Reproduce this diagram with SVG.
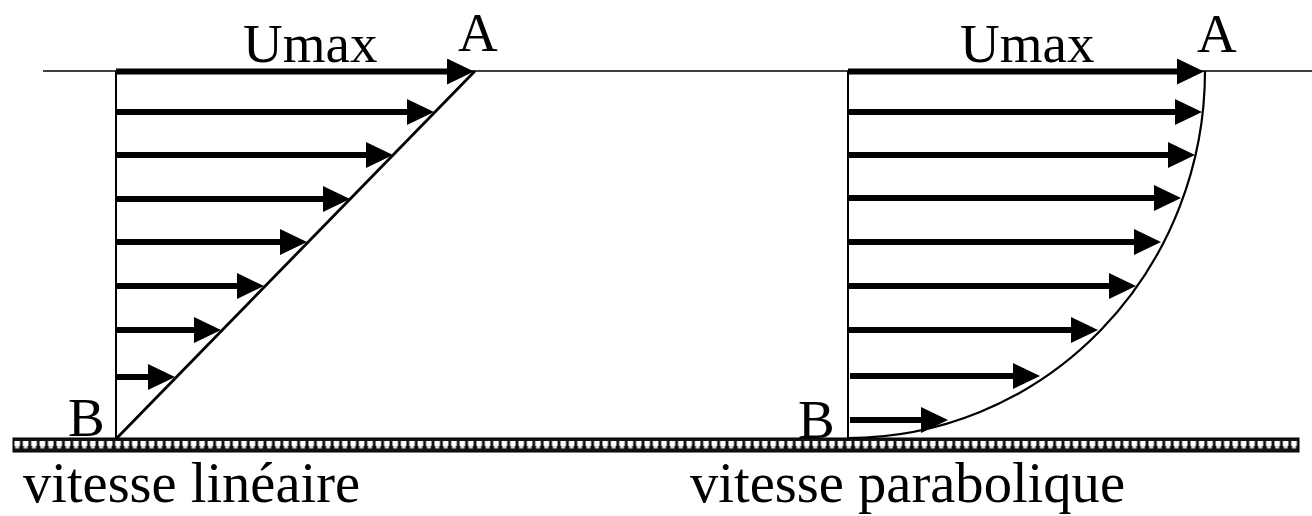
<svg xmlns="http://www.w3.org/2000/svg" width="1312" height="516" viewBox="0 0 1312 516">
  <style>
    .lbl { font-family: "Liberation Serif", "Times New Roman", serif; font-size: 55px; fill: #000; }
    .cap { font-family: "Liberation Serif", "Times New Roman", serif; font-size: 57px; fill: #000; }
    .thin { stroke: #000; fill: none; }
    .shaft { stroke: #000; stroke-width: 6; marker-end: url(#head); }
  </style>
  <defs>
    <marker id="head" markerUnits="userSpaceOnUse" markerWidth="27" markerHeight="26" refX="13" refY="13" orient="auto">
      <path d="M0,0 L27,13 L0,26 Z" fill="#000"/>
    </marker>
    <pattern id="ground" patternUnits="userSpaceOnUse" x="13" y="438" width="8.4" height="14">
      <rect x="0" y="0" width="8.4" height="14" fill="#111"/>
      <rect x="1.4" y="3" width="5.6" height="5" fill="#fff"/>
      <rect x="2.2" y="8" width="4" height="2.5" fill="#ddd"/>
    </pattern>
  </defs>

  <g id="ground-bar">
    <rect x="13" y="438" width="1286" height="14" fill="url(#ground)" stroke="#000" stroke-width="1"/>
  </g>

  <g id="surface">
    <line class="thin" x1="43" y1="71" x2="1312" y2="71" stroke-width="1.6"/>
  </g>

  <g id="profile-linear">
    <line class="thin" x1="116" y1="71" x2="116" y2="438" stroke-width="2"/>
    <line class="thin" x1="116" y1="439" x2="475" y2="71" stroke-width="2.8"/>
  </g>

  <g id="profile-parabolic">
    <line class="thin" x1="848" y1="71" x2="848" y2="438" stroke-width="2"/>
    <path class="thin" d="M 848 438 A 357 367 0 0 0 1205 71" stroke-width="2.2"/>
  </g>

  <g id="connectors">
    <line class="shaft" x1="116" y1="71.5" x2="460" y2="71.5"/>
    <line class="shaft" x1="116" y1="112" x2="420" y2="112"/>
    <line class="shaft" x1="116" y1="155" x2="379" y2="155"/>
    <line class="shaft" x1="116" y1="199" x2="336" y2="199"/>
    <line class="shaft" x1="116" y1="242" x2="293" y2="242"/>
    <line class="shaft" x1="116" y1="286" x2="250" y2="286"/>
    <line class="shaft" x1="116" y1="330" x2="207" y2="330"/>
    <line class="shaft" x1="116" y1="377" x2="161" y2="377"/>

    <line class="shaft" x1="848" y1="71.5" x2="1190" y2="71.5"/>
    <line class="shaft" x1="848" y1="112" x2="1188" y2="112"/>
    <line class="shaft" x1="848" y1="155" x2="1181" y2="155"/>
    <line class="shaft" x1="848" y1="198" x2="1167" y2="198"/>
    <line class="shaft" x1="848" y1="242" x2="1147" y2="242"/>
    <line class="shaft" x1="848" y1="286" x2="1122" y2="286"/>
    <line class="shaft" x1="848" y1="330" x2="1084" y2="330"/>
    <line class="shaft" x1="850" y1="376" x2="1026" y2="376"/>
    <line class="shaft" x1="850" y1="420" x2="934" y2="420"/>
  </g>

  <g id="labels-linear">
    <text class="lbl" x="243" y="62">Umax</text>
    <text class="lbl" x="458" y="51">A</text>
    <text class="lbl" x="68" y="436">B</text>
  </g>

  <g id="labels-parabolic">
    <text class="lbl" x="960" y="62">Umax</text>
    <text class="lbl" x="1197" y="52">A</text>
    <text class="lbl" x="798" y="438">B</text>
  </g>

  <g id="captions">
    <text class="cap" x="23" y="502" textLength="337" lengthAdjust="spacingAndGlyphs">vitesse linéaire</text>
    <text class="cap" x="690" y="502" textLength="435" lengthAdjust="spacingAndGlyphs">vitesse parabolique</text>
  </g>
</svg>
